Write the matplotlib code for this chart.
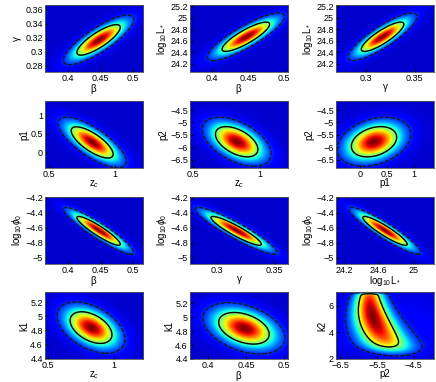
import numpy as np
import matplotlib
matplotlib.use("Agg")
import matplotlib.pyplot as plt

plt.rcParams['font.family'] = ['Liberation Sans', 'DejaVu Sans']
plt.rcParams['mathtext.fontset'] = 'custom'
plt.rcParams['mathtext.rm'] = 'Liberation Sans'
plt.rcParams['mathtext.it'] = 'Liberation Sans:italic'

# parameter summary (posterior means / std devs)
param_names = ['beta', 'gamma', 'logL', 'zc', 'p1', 'p2', 'logphi', 'k1']
param_labels = {'beta': r'$\mathrm{\beta}$', 'gamma': r'$\mathrm{\gamma}$',
                'logL': r'log$_{10}$L$_*$', 'zc': r'z$_c$', 'p1': 'p1', 'p2': 'p2',
                'logphi': r'log$_{10}\phi_0$', 'k1': 'k1', 'k2': 'k2'}
means = [0.447, 0.317, 24.67, 0.826, 0.26, -5.77, -4.64, 4.84]
sigmas = [0.022, 0.0145, 0.168, 0.105, 0.28, 0.40, 0.127, 0.15]

# panels: (x param, y param, correlation)
panel_x = ['beta', 'beta', 'gamma', 'zc', 'zc', 'p1', 'beta', 'gamma', 'logL', 'zc', 'beta', 'p2']
panel_y = ['gamma', 'logL', 'logL', 'p1', 'p2', 'p2', 'logphi', 'logphi', 'logphi', 'k1', 'k1', 'k2']
panel_rho = [0.82, 0.85, 0.85, -0.75, -0.5, 0.3, -0.92, -0.92, -0.92, -0.45, -0.38, None]
panel_xlim = [(0.365, 0.515), (0.369, 0.506), (0.269, 0.370),
              (0.47, 1.21), (0.477, 1.21), (-0.45, 1.38),
              (0.365, 0.515), (0.277, 0.362), (24.11, 25.23),
              (0.477, 1.22), (0.376, 0.505), (-6.61, -3.95)]
panel_ylim = [(0.271, 0.367), (24.06, 25.22), (24.06, 25.22),
              (-0.43, 1.38), (-6.82, -4.14), (-6.82, -4.14),
              (-5.08, -4.19), (-5.08, -4.19), (-5.08, -4.19),
              (4.39, 5.35), (4.4, 5.36), (2.0, 7.05)]
panel_xticks = [[0.4, 0.45, 0.5], [0.4, 0.45, 0.5], [0.3, 0.35],
                [0.5, 1], [0.5, 1], [0, 0.5, 1],
                [0.4, 0.45, 0.5], [0.3, 0.35], [24.2, 24.6, 25],
                [0.5, 1], [0.4, 0.45, 0.5], [-6.5, -5.5, -4.5]]
panel_yticks = [[0.28, 0.3, 0.32, 0.34, 0.36], [24.2, 24.4, 24.6, 24.8, 25, 25.2], [24.2, 24.4, 24.6, 24.8, 25, 25.2],
                [0, 0.5, 1], [-6.5, -6, -5.5, -5, -4.5], [-6.5, -6, -5.5, -5, -4.5],
                [-5, -4.8, -4.6, -4.4, -4.2], [-5, -4.8, -4.6, -4.4, -4.2], [-5, -4.8, -4.6, -4.4, -4.2],
                [4.4, 4.6, 4.8, 5, 5.2], [4.4, 4.6, 4.8, 5, 5.2], [2, 4, 6]]

# banana-shaped k2 vs p2 posterior (prior range of k2: 2..7)
k2_top, k2_bottom = 6.93, 2.7
k2_mean, k2_sigma = 5.2, 2.2
ridge_p2_top, ridge_curv = -5.70, 0.035
ridge_width0, ridge_width_slope = 0.22, 0.045


def fmt(v):
    s = ('%g' % v)
    return s.replace('-', '\u2212')


fig = plt.figure(figsize=(4.36, 3.82), dpi=100)
W, H = 436.0, 382.0
col_x = [45, 190, 336]
row_y = [5, 101, 197, 292]
aw, ah = 98, 67

for i in range(12):
    r, c = divmod(i, 3)
    ax = fig.add_axes([col_x[c] / W, 1 - (row_y[r] + ah) / H, aw / W, ah / H])
    x0, x1 = panel_xlim[i]
    y0, y1 = panel_ylim[i]
    dx, dy = x1 - x0, y1 - y0
    gx = np.linspace(x0 - dx, x1 + dx, 600)
    gy = np.linspace(y0 - dy, y1 + dy, 600)
    X, Y = np.meshgrid(gx, gy)
    if panel_rho[i] is not None:
        ix = param_names.index(panel_x[i])
        iy = param_names.index(panel_y[i])
        u = (X - means[ix]) / sigmas[ix]
        v = (Y - means[iy]) / sigmas[iy]
        rho = panel_rho[i]
        Z = np.exp(-0.5 * (u * u - 2 * rho * u * v + v * v) / (1 - rho * rho))
    else:
        m = ridge_p2_top + ridge_curv * (6.8 - Y) ** 2
        s = ridge_width0 + ridge_width_slope * np.clip(6.8 - Y, 0, None)
        cut = 1 / (1 + np.exp((Y - k2_top) / 0.04)) / (1 + np.exp(-(Y - k2_bottom) / 0.22))
        Z = np.exp(-0.5 * ((X - m) / s) ** 2) * np.exp(-0.5 * ((Y - k2_mean) / k2_sigma) ** 2) * cut
        Z = Z / Z.max()
        Z = Z + 0.025 * np.exp(-0.5 * (((X + 4.9) / 1.0) ** 2 + ((Y - 3.5) / 2.0) ** 2)) * cut
    Z = Z / Z.max()
    # HPD levels
    zs = np.sort(Z.ravel())[::-1]
    cs = np.cumsum(zs)
    cs /= cs[-1]
    l68 = zs[np.searchsorted(cs, 0.68)]
    l95 = zs[np.searchsorted(cs, 0.95)]

    ax.imshow(Z ** 0.75, extent=[gx[0], gx[-1], gy[0], gy[-1]], origin='lower', cmap='jet',
              vmin=-0.075, vmax=1.0, aspect='auto', interpolation='bilinear')
    ax.contour(X, Y, Z, levels=[l95], colors='#1a1a1a', linewidths=1.0, linestyles=[(0, (3.0, 1.2))])
    ax.contour(X, Y, Z, levels=[l68], colors='black', linewidths=1.0)
    ax.set_xlim(x0, x1)
    ax.set_ylim(y0, y1)
    ax.set_xticks(panel_xticks[i])
    ax.set_yticks(panel_yticks[i])
    ax.set_xticklabels([fmt(t) for t in panel_xticks[i]])
    ax.set_yticklabels([fmt(t) for t in panel_yticks[i]])
    ax.tick_params(direction='in', length=2, width=0.6, labelsize=6.5, pad=1.5, colors='black')
    for sp in ax.spines.values():
        sp.set_linewidth(0.6)
        sp.set_color('#555555')
    ax.set_xlabel(param_labels[panel_x[i]], fontsize=7, labelpad=-0.5)
    ax.set_ylabel(param_labels[panel_y[i]], fontsize=7, labelpad=1)

fig.savefig('out.png', dpi=100)
